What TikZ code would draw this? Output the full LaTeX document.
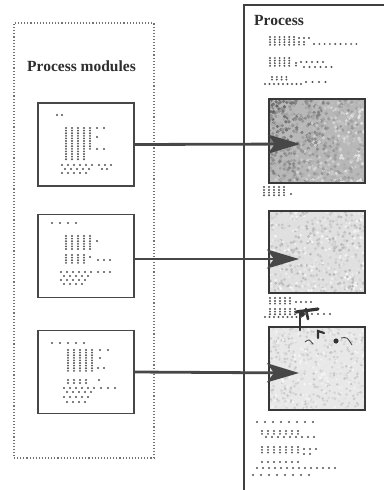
\documentclass[tikz,border=0pt]{standalone}
\usepackage{fontspec}
\setmainfont{Liberation Serif}
\usetikzlibrary{arrows.meta}
\newcommand{\drow}[4]{\foreach \i in {1,...,#3}{\fill[dotc] ({#1+(\i-1)*#4},#2) circle[radius=1.05pt];}}
\newcommand{\dbars}[6]{\foreach \i in {1,...,#3}{\foreach \j in {1,...,#5}{\fill[dotc] ({#1+(\i-1)*#4},{#2+(\j-1)*#6}) circle[radius=1.05pt];}}}
\begin{document}
\begin{tikzpicture}[x=1pt,y=-1pt,
  modbox/.style={draw=black!72,line width=1.5pt,minimum width=96pt,minimum height=83pt,inner sep=0pt,fill=white},
  picbox/.style={draw=black!78,line width=1.9pt,minimum width=96pt,inner sep=0pt},
  groupbox/.style={draw=black!55,line width=1.1pt,dotted,minimum width=140pt,minimum height=435pt,inner sep=0pt},
  arr/.style={draw=black!72,line width=2.8pt,-{Stealth[length=32pt,width=19pt,inset=7pt]}},
  dotc/.style={fill=black!68},
  lbl/.style={font=\fontsize{15.5}{18}\selectfont\bfseries,text=black!82,inner sep=0pt,anchor=base west},
  frame/.style={draw=black!75,line width=1.6pt}]
\fill[white] (0,0) rectangle (388,490);
\useasboundingbox (0,0) rectangle (388,490);

% left group
\node[groupbox] (modules) at (84,240.5) {};
\node[lbl] (lblmod) at (27,71) {Process modules};

% right frame (cut off)
\coordinate (fb) at (244,490);
\coordinate (ft) at (384,5);
\draw[frame] (fb) |- (ft);
\node[lbl] (lblproc) at (254,25) {Process};

% module boxes
\node[modbox] (m1) at (86,144.5) {};
\node[modbox] (m2) at (86,256) {};
\node[modbox] (m3) at (86,372) {};

% picture textures
\begin{scope}
\clip (269,99) rectangle (365,183);
\fill[black!28] (269,99) rectangle (365,183);
\pgfmathsetseed{3}
\foreach \k in {1,...,800}{
 \pgfmathsetmacro\rx{269+96*rnd}
 \pgfmathsetmacro\ry{99+84*rnd}
 \pgfmathtruncatemacro\rc{max(5,min(70,8+30*rnd+28*(1-(\rx-269)/96)*(1-0.6*(\ry-99)/84)))}
 \fill[black!\rc] (\rx,\ry) circle[radius=1.8pt];
}
\end{scope}
\begin{scope}
\clip (269,211) rectangle (365,293);
\fill[black!12] (269,211) rectangle (365,293);
\pgfmathsetseed{5}
\foreach \k in {1,...,600}{
 \pgfmathsetmacro\rx{269+96*rnd}
 \pgfmathsetmacro\ry{211+82*rnd}
 \pgfmathtruncatemacro\rc{3+26*rnd}
 \fill[black!\rc] (\rx,\ry) circle[radius=1.5pt];
}
\end{scope}
\begin{scope}
\clip (269,327) rectangle (365,410);
\fill[black!9] (269,327) rectangle (365,410);
\pgfmathsetseed{8}
\foreach \k in {1,...,600}{
 \pgfmathsetmacro\rx{269+96*rnd}
 \pgfmathsetmacro\ry{327+83*rnd}
 \pgfmathtruncatemacro\rc{3+20*rnd}
 \fill[black!\rc] (\rx,\ry) circle[radius=1.4pt];
}
\end{scope}
\node[picbox,minimum height=84pt] (p1) at (317,141) {};
\node[picbox,minimum height=82pt] (p2) at (317,252) {};
\node[picbox,minimum height=83pt] (p3) at (317,368.5) {};

% dark marks near third picture
\draw[black!80,line width=3.2pt,line cap=round] (296,312) -- (318,309);
\draw[black!80,line width=2.8pt,line cap=round] (300,311) -- (300,330);
\draw[black!80,line width=2.6pt,line cap=round] (306,309) -- (308,319);
\fill[black!80] (302,314) circle[radius=3pt];
\draw[black!80,line width=2.2pt,line cap=round] (318,338) -- (318,331) -- (324,333);
\fill[black!80] (336,341) circle[radius=2.6pt];
\draw[black!70,line width=0.9pt] (305,342) .. controls (309,339) .. (313,344);
\draw[black!70,line width=0.9pt] (341,338) .. controls (347,337) .. (352,345);

% arrows
\coordinate (t1) at (300,144);
\coordinate (t2) at (299,259);
\coordinate (t3) at (299,373);
\draw[arr] (m1.east) -- (t1);
\draw[arr] (m2.east |- t2) -- (t2);
\draw[arr] (m3.east) -- (t3);

% module 1 text
\drow{57}{115}{2}{5}
\dbars{66}{128}{4}{6}{13}{2.6}
\dbars{90}{128}{1}{6}{9}{2.6}
\drow{97}{128}{2}{7}
\drow{97}{137}{1}{7}
\drow{97}{149}{2}{7}
\drow{62}{165}{6}{6}\drow{99}{165}{3}{6}
\drow{65}{169}{5}{6}\drow{102}{169}{2}{5}
\drow{62}{173}{5}{6}

% module 2 text
\drow{52}{223}{4}{8}
\dbars{66}{236}{5}{6}{6}{2.6}
\drow{97}{241}{1}{6}
\dbars{66}{255}{4}{6}{4}{2.6}
\drow{90}{257}{1}{6}\drow{98}{260}{3}{6}
\drow{61}{272}{6}{6}\drow{98}{272}{3}{6}
\drow{64}{276}{5}{6}
\drow{61}{280}{5}{6}
\drow{64}{284}{4}{6}

% module 3 text
\drow{52}{343}{5}{8}
\dbars{68}{350}{5}{6}{9}{2.6}
\drow{100}{350}{2}{8}
\drow{100}{358}{1}{6}
\drow{98}{368}{2}{6}
\dbars{68}{380}{4}{6}{2}{3}
\drow{99}{380}{1}{6}
\drow{64}{388}{6}{6}\drow{101}{388}{3}{7}
\drow{67}{392}{5}{6}
\drow{64}{397}{5}{6}
\drow{67}{402}{4}{6}

% right text
\dbars{270}{37}{6}{4.8}{4}{2.6}
\drow{299}{38}{3}{5}
\dbars{299}{42}{2}{5}{2}{2.6}
\drow{314}{44}{9}{5.3}
\dbars{270}{58}{5}{4.8}{4}{2.6}
\dbars{296}{63}{1}{5}{2}{2.6}
\drow{301}{62}{5}{5.5}
\drow{304}{67}{6}{5.5}
\dbars{272}{77}{4}{4.8}{2}{2.6}
\drow{265}{84}{9}{4.5}
\drow{306}{82}{4}{6.5}

\drow{264}{187}{5}{5}
\dbars{264}{190}{5}{5}{3}{2.6}
\drow{291}{194}{1}{5}

\drow{270}{298}{5}{5}
\dbars{270}{301}{5}{5}{2}{2.6}
\drow{296}{302}{4}{5}
\dbars{270}{309}{6}{5}{3}{2.6}
\drow{265}{317}{9}{4.5}
\drow{306}{314}{5}{6}

\drow{257}{422}{8}{8}
\dbars{262}{431}{7}{6}{2}{2.8}
\drow{266}{437}{9}{6}
\dbars{262}{447}{7}{6}{3}{2.8}
\drow{304}{449}{3}{6}
\drow{304}{454}{2}{6}
\drow{262}{462}{7}{6}
\drow{257}{468}{14}{6}
\drow{253}{475}{8}{8}
\end{tikzpicture}
\end{document}
